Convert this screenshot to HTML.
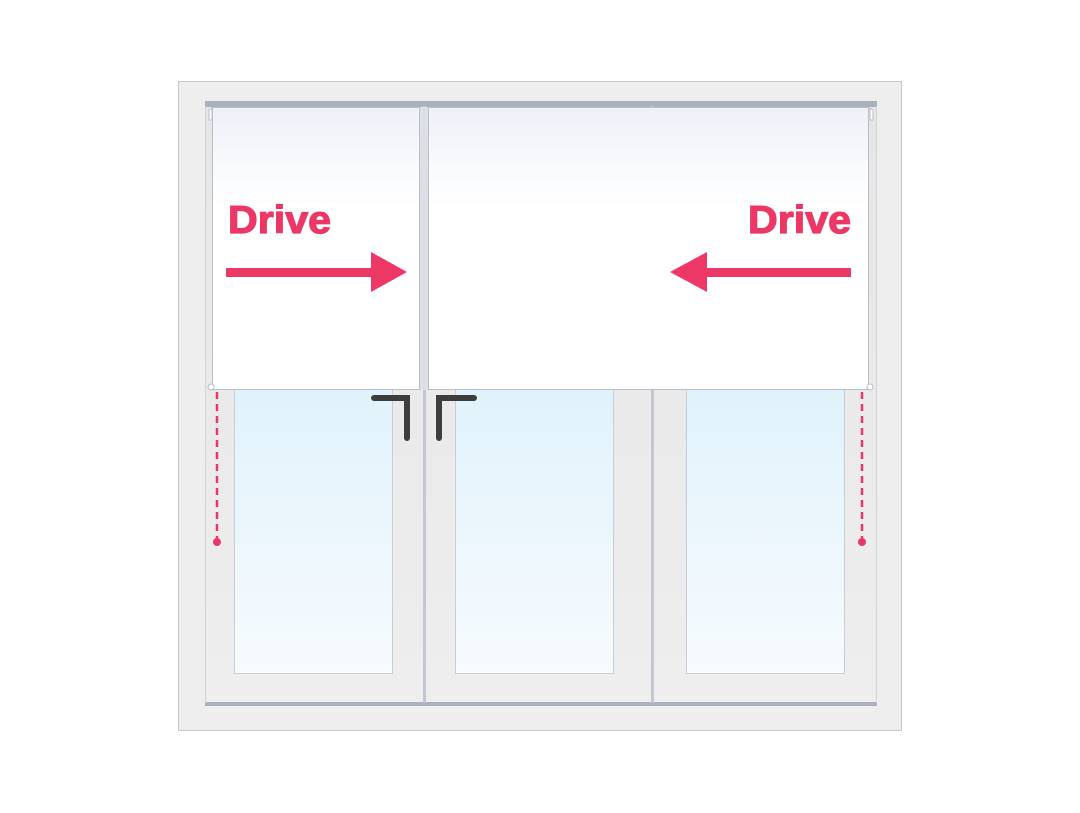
<!DOCTYPE html>
<html><head><meta charset="utf-8"><style>html,body{margin:0;padding:0;background:#fff}svg{display:block}</style></head>
<body>
<svg width="1080" height="813" viewBox="0 0 1080 813" xmlns="http://www.w3.org/2000/svg">
<defs>
<linearGradient id="glass" x1="0" y1="0" x2="0" y2="1"><stop offset="0" stop-color="#e0f2fb"/><stop offset="1" stop-color="#f7fbfe"/></linearGradient>
<linearGradient id="blind" x1="0" y1="0" x2="0" y2="1"><stop offset="0" stop-color="#eef1f8"/><stop offset="0.35" stop-color="#ffffff"/><stop offset="1" stop-color="#ffffff"/></linearGradient>
<linearGradient id="sash" x1="0" y1="0" x2="0" y2="1"><stop offset="0" stop-color="#e6e6e6"/><stop offset="1" stop-color="#eeeeee"/></linearGradient>
</defs>
<rect x="178.5" y="81.5" width="723" height="649" fill="#eeeeee" stroke="#c4c7ce"/>
<rect x="205" y="104" width="672" height="600" fill="url(#sash)"/>
<rect x="205" y="101" width="672" height="6" fill="#aab1bd"/>
<rect x="205" y="702" width="672" height="4" fill="#aab1bd"/>
<rect x="423" y="106" width="3" height="597" fill="#c3c7cf"/>
<rect x="651" y="106" width="3" height="597" fill="#c3c7cf"/>
<rect x="205" y="106" width="1" height="597" fill="#d0d3d8"/>
<rect x="876" y="106" width="1" height="597" fill="#d0d3d8"/>
<rect x="234.5" y="385" width="158" height="288.5" fill="url(#glass)" stroke="#c8ccd4"/>
<rect x="455.5" y="385" width="158" height="288.5" fill="url(#glass)" stroke="#c8ccd4"/>
<rect x="686.5" y="385" width="158" height="288.5" fill="url(#glass)" stroke="#c8ccd4"/>
<rect x="419" y="107" width="10" height="283" fill="#dcdfe4"/>
<rect x="212.5" y="107.5" width="207" height="282" fill="url(#blind)" stroke="#b9bec9"/>
<rect x="428.5" y="107.5" width="440" height="282" fill="url(#blind)" stroke="#b9bec9"/>
<circle cx="211" cy="387" r="3" fill="#fff" stroke="#b9bec9"/>
<circle cx="870" cy="387" r="3" fill="#fff" stroke="#b9bec9"/>
<path d="M209 110 v10 h3 v-12z" fill="#fff" stroke="#b9bec9"/>
<path d="M873 110 v10 h-3 v-12z" fill="#fff" stroke="#b9bec9"/>
<g stroke="#3d3d3d" stroke-width="6" stroke-linecap="round" fill="none">
<path d="M374 398 H407 V438"/>
<path d="M474 398 H439 V438"/>
</g>
<g stroke="#e8376a" stroke-width="2.5" stroke-dasharray="7,5">
<line x1="217" y1="392" x2="217" y2="538"/>
<line x1="862" y1="392" x2="862" y2="538"/>
</g>
<circle cx="217" cy="542" r="4" fill="#e8376a"/>
<circle cx="862" cy="542" r="4" fill="#e8376a"/>
<g fill="#ec3767" font-family="'Liberation Sans',sans-serif" font-weight="bold" font-size="39">
<text x="228" y="233" textLength="103" lengthAdjust="spacingAndGlyphs" stroke="#ec3767" stroke-width="1.2">Drive</text>
<text x="748" y="233" textLength="103" lengthAdjust="spacingAndGlyphs" stroke="#ec3767" stroke-width="1.2">Drive</text>
<rect x="226" y="268" width="148" height="9"/>
<polygon points="371,252 407,272 371,292"/>
<rect x="705" y="268" width="146" height="9"/>
<polygon points="707,252 670,272 707,292"/>
</g>
</svg>
</body></html>
